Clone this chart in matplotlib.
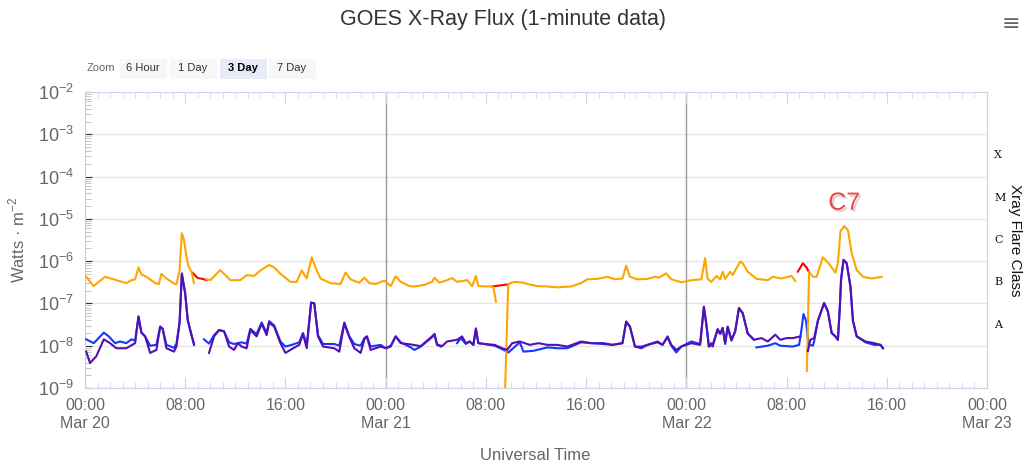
import numpy as np
import matplotlib
matplotlib.use('Agg')
import matplotlib.pyplot as plt
import matplotlib.patheffects as pe

nan = np.nan

# long channel (0.1-0.8 nm), primary satellite: hours since Mar 20 00:00, log10(W/m^2)
long_hours = [0.1, 0.67, 1.6, 2.5, 3.3, 3.7, 4.0, 4.27, 4.5, 4.9, 5.6, 5.9, 6.1, 6.5, 7.1, 7.3,
              7.55, 7.73, 7.9, 8.1, 8.27, 8.5, 8.7, 9.2,
              9.7, 10.0, 10.8, 11.6, 12.4, 12.9, 13.5, 14.0, 14.7, 15.1, 15.6, 16.4, 16.9, 17.3,
              17.7, 18.1, 18.4, 18.8, 19.6, 20.4, 20.8, 21.2, 21.9, 22.3, 22.7, 23.2, 23.9, 24.4,
              24.8, 25.2, 25.9, 26.3, 27.1, 27.7, 27.9, 28.3, 28.9, 29.3, 29.7, 30.5, 30.9, 31.2,
              31.4, 32.4, 32.6, 32.8, 33.2,
              33.5, 33.78, 34.3, 35.0, 35.3, 36.1, 36.9, 37.7, 38.8, 39.6, 40.1, 40.9, 41.7, 42.3,
              42.9, 43.2, 43.5, 44.1, 44.9, 45.5, 45.8, 46.4, 46.8, 47.6, 48.4, 49.2, 49.5, 49.7,
              50.0, 50.4, 50.7, 50.9, 51.1, 51.5, 51.7, 52.3, 52.5, 52.9, 53.6, 54.5, 54.9, 55.6,
              56.4, 56.7, 57.2,
              57.62, 57.8, 58.1, 58.4, 58.9, 59.3, 59.9, 60.1, 60.3, 60.6, 60.9, 61.2, 61.6, 62.1,
              62.8, 63.6]
long_flux = [-6.37, -6.59, -6.37, -6.45, -6.52, -6.45, -6.43, -6.15, -6.31, -6.37, -6.52, -6.54,
             -6.30, -6.41, -6.53, -6.55, -6.21, -5.34, -5.50, -5.90, -6.13, -6.25, -6.52, nan,
             -6.43, -6.45, -6.21, -6.45, -6.45, -6.33, -6.35, -6.22, -6.09, -6.15, -6.30, -6.49,
             -6.49, -6.22, -6.41, -5.91, -6.15, -6.41, -6.52, -6.54, -6.27, -6.43, -6.51, -6.39,
             -6.52, -6.54, -6.46, -6.59, -6.36, -6.49, -6.59, -6.60, -6.56, -6.49, -6.39, -6.51,
             -6.45, -6.40, -6.49, -6.45, -6.59, -6.35, -6.59, -6.60, -6.62, -6.96, nan,
             -9.4, -6.54, -6.49, -6.51, -6.54, -6.59, -6.60, -6.62, -6.60, -6.52, -6.43, -6.42,
             -6.37, -6.43, -6.41, -6.11, -6.37, -6.43, -6.42, -6.37, -6.39, -6.29, -6.43, -6.50,
             -6.45, -6.43, -5.93, -6.42, -6.49, -6.35, -6.43, -6.25, -6.42, -6.25, -6.33, -6.01,
             -6.05, -6.25, -6.42, -6.45, -6.37, -6.41, -6.35, -6.47, nan,
             -8.6, -6.25, -6.37, -6.37, -5.91, -6.03, -6.27, -6.05, -5.30, -5.17, -5.27, -5.81,
             -6.21, -6.37, -6.41, -6.37]

# long channel, secondary satellite (shown where the primary has gaps)
long2_hours = [8.6, 9.0, 9.4, 9.7, 10.0, 32.5, 33.0, 33.5, 33.8, 56.4, 56.9, 57.3, 57.6, 57.8]
long2_flux = [-6.28, -6.40, -6.42, -6.45, nan, -6.60, -6.58, -6.56, -6.55, nan,
              -6.25, -6.05, -6.15, -6.27]

# short channel (0.05-0.4 nm), primary satellite
short_hours = [0.1, 0.7, 1.5, 1.9, 2.4, 2.8, 3.3, 3.7, 4.0, 4.27, 4.5, 4.8, 5.2, 5.7, 6.0, 6.2,
               6.5, 7.1, 7.3, 7.55, 7.73, 8.0, 8.2, 8.5, 8.7, 9.1,
               9.5, 9.9, 10.3, 10.7, 11.1, 11.5, 11.9, 12.5, 12.9, 13.2, 13.5, 13.7, 14.1, 14.5,
               14.7, 15.1, 15.6, 16.0, 16.5, 17.1, 17.4, 17.7, 18.05, 18.3, 18.6, 19.0, 19.9, 20.3,
               20.7, 21.1, 21.5, 22.0, 22.3, 22.5, 22.8, 23.6, 24.0, 24.4, 24.8, 25.2, 26.0, 26.3,
               26.8, 27.7, 27.9, 28.1, 28.4, 29.0,
               29.7, 30.0, 30.4, 30.7, 31.0, 31.2, 31.4, 31.9, 32.7, 33.3, 33.8, 34.1, 34.7, 35.0,
               35.8, 36.9, 37.7, 38.5, 39.6, 40.4, 41.4, 42.1, 42.9, 43.2, 43.5, 43.9, 44.4, 44.9,
               45.7, 46.1, 46.5, 46.8, 47.2, 47.6, 48.4, 49.1, 49.4, 49.6, 49.8, 50.1, 50.5, 50.7,
               50.9, 51.1, 51.3, 51.6, 51.9, 52.2, 52.5, 52.9, 53.4, 53.5,
               53.6, 54.5, 55.1, 55.5, 56.5, 57.0, 57.2, 57.35, 57.55, 57.75, 58.1, 58.2, 58.5,
               59.0, 59.3, 59.6, 59.9, 60.1, 60.25, 60.35, 60.55, 60.8, 61.1, 61.3, 61.6, 62.3,
               63.0, 63.5, 63.7]
short_flux = [-7.85, -7.94, -7.69, -7.78, -7.94, -7.90, -7.94, -7.85, -7.88, -7.31, -7.69, -7.78,
              -8.00, -7.98, -7.55, -7.60, -7.98, -8.05, -7.95, -7.45, -6.30, -6.78, -7.40, -7.75,
              -7.95, nan,
              -7.85, -7.95, -7.75, -7.63, -7.66, -7.92, -7.96, -7.92, -7.95, -7.60, -7.68, -7.72,
              -7.45, -7.70, -7.42, -7.52, -7.90, -8.02, -7.98, -7.92, -7.70, -7.98, -6.98, -7.00,
              -7.75, -7.96, -7.96, -8.00, -7.45, -7.78, -7.96, -8.00, -7.82, -7.78, -8.02, -7.98,
              -8.06, -8.00, -7.78, -7.92, -8.04, -8.10, -8.02, -7.80, -7.74, -7.98, -8.02, nan,
              -7.94, -7.82, -7.96, -7.90, -7.98, -7.62, -7.94, -7.96, -8.00, -8.08, -8.16, -8.08,
              -7.92, -8.14, -8.12, -8.04, -8.06, -8.06, -7.92, -7.94, -7.96, -7.98, -7.94, -7.43,
              -7.55, -8.02, -8.02, -7.98, -7.92, -7.98, -7.80, -8.00, -8.16, -8.02, -7.90, -7.96,
              -7.08, -7.50, -8.02, -7.98, -7.61, -7.72, -7.58, -7.96, -7.55, -7.88, -7.66, -7.11,
              -7.23, -7.71, -7.86, nan,
              -8.04, -8.00, -7.94, -8.00, -8.02, -7.98, -7.60, -7.25, -7.40, -7.97, -8.00, -7.90,
              -7.41, -6.99, -7.19, -7.70, -7.78, -7.86, -7.10, -6.44, -5.97, -6.05, -6.60, -7.41,
              -7.78, -7.92, -7.98, -7.98, -8.06]

# short channel, secondary satellite
short2_hours = [0.1, 0.4, 0.9, 1.5, 2.0, 2.5, 3.3, 4.0, 4.27, 4.5, 4.8, 5.2, 5.7, 6.0, 6.2, 6.5,
                7.1, 7.3, 7.55, 7.73, 8.0, 8.2, 8.5, 8.7, 9.3,
                9.9, 10.3, 10.7, 11.1, 11.5, 11.9, 12.2, 12.5, 12.9, 13.2, 13.5, 13.7, 14.1, 14.5,
                14.7, 15.1, 15.6, 16.0, 16.5, 17.1, 17.4, 17.7, 18.05, 18.3, 18.6, 19.0, 19.9,
                20.3, 20.7, 21.1, 21.5, 22.0, 22.3, 22.5, 22.8, 23.6, 24.0, 24.4, 24.8, 25.2, 26.0,
                26.8, 27.7, 27.9, 28.1, 28.5, 28.9, 29.7, 30.1, 30.4, 30.7, 31.0, 31.2, 31.4, 31.9,
                32.7, 33.3, 33.7, 34.1, 34.7, 35.5, 36.2, 36.9, 37.7, 38.5, 39.6, 40.4, 41.4, 42.1,
                42.9, 43.2, 43.5, 43.9, 44.4, 44.9, 45.7, 46.1, 46.5, 46.8, 47.2, 47.6, 48.4, 49.1,
                49.4, 49.6, 49.8, 50.0, 50.1, 50.5, 50.7, 50.9, 51.1, 51.3, 51.6, 51.9, 52.2, 52.5,
                52.9, 53.4, 54.0, 54.5, 55.1, 55.5, 56.0, 56.5, 57.1, 57.4,
                57.7, 57.9, 58.2, 58.5, 59.0, 59.3, 59.6, 59.9, 60.1, 60.25, 60.35, 60.55, 60.8,
                61.1, 61.3, 61.6, 62.3, 63.0, 63.5, 63.7]
short2_flux = [-8.14, -8.41, -8.25, -7.85, -7.94, -8.06, -8.06, -7.94, -7.31, -7.69, -7.78, -8.17,
               -8.10, -7.55, -7.60, -8.06, -8.14, -8.02, -7.45, -6.29, -6.76, -7.39, -7.75, -7.98,
               nan,
               -8.17, -7.78, -7.63, -7.66, -8.02, -8.10, -7.94, -8.02, -8.06, -7.63, -7.72, -7.78,
               -7.48, -7.75, -7.45, -7.55, -7.94, -8.17, -8.08, -7.98, -7.72, -8.06, -6.98, -7.00,
               -7.78, -8.02, -8.06, -8.14, -7.47, -7.80, -8.06, -8.17, -7.85, -7.78, -8.10, -8.02,
               -8.06, -8.02, -7.78, -7.94, -7.97, -8.01, -7.78, -7.72, -7.97, -8.01, -7.90, -7.86,
               -7.78, -7.94, -7.90, -7.98, -7.59, -7.94, -7.96, -7.98, -8.06, -8.10, -7.94, -7.90,
               -7.98, -7.94, -7.98, -7.98, -8.02, -7.90, -7.94, -7.94, -7.98, -7.94, -7.43, -7.55,
               -8.02, -8.06, -7.98, -7.90, -7.98, -7.78, -7.98, -8.10, -8.02, -7.94, -7.98, -7.08,
               -7.50, -8.02, -7.94, -8.02, -7.61, -7.72, -7.58, -7.94, -7.55, -7.86, -7.66, -7.11,
               -7.23, -7.71, -7.86, -7.82, -7.90, -7.74, -7.86, -7.82, -7.82, -7.78, nan,
               -8.13, -7.86, -7.82, -7.41, -6.99, -7.19, -7.70, -7.78, -7.86, -7.10, -6.44, -5.97,
               -6.05, -6.60, -7.41, -7.78, -7.90, -7.94, -7.98, -8.06]

tick_hours = [0, 8, 16, 24, 32, 40, 48, 56, 64, 72]
tick_labels = ['00:00\nMar 20', '08:00', '16:00', '00:00\nMar 21', '08:00', '16:00',
               '00:00\nMar 22', '08:00', '16:00', '00:00\nMar 23']
decades = [-9, -8, -7, -6, -5, -4, -3, -2]
flare_classes = ['A', 'B', 'C', 'M', 'X']
class_levels = [-7.5, -6.5, -5.5, -4.5, -3.5]

plt.rcParams['font.family'] = ['Liberation Sans', 'DejaVu Sans']
plt.rcParams['mathtext.fontset'] = 'custom'
plt.rcParams['mathtext.rm'] = 'Liberation Sans'

fig = plt.figure(figsize=(10.33, 4.74), dpi=100)
ax = fig.add_axes([85 / 1033, 1 - 388 / 474, 902 / 1033, 296 / 474])

ax.set_yscale('log')
ax.set_ylim(1e-9, 1e-2)
ax.set_xlim(0, 72)

# grid
for d in decades:
    ax.axhline(10.0 ** d, color='#e6e6e6', lw=1, zorder=0)
ax.axvline(24, color='#999999', lw=1, zorder=1)
ax.axvline(48, color='#999999', lw=1, zorder=1)

ax.plot(long2_hours, 10 ** np.array(long2_flux), color='#ff0000', lw=1.5, zorder=3)
ax.plot(long_hours, 10 ** np.array(long_flux), color='#ffa500', lw=1.5, zorder=4)
ax.plot(short_hours, 10 ** np.array(short_flux), color='#1238ff', lw=1.5, zorder=3)
ax.plot(short2_hours, 10 ** np.array(short2_flux), color='#5510b0', lw=1.5, zorder=4)

ax.text(60.6, 10 ** -4.62, 'C7', color='#f04848', fontsize=18,
        ha='center', va='center', zorder=6,
        path_effects=[pe.withSimplePatchShadow(offset=(1.5, -1.5), shadow_rgbFace='#aaaaaa', alpha=0.5)])

# axes styling
for side in ['top', 'right', 'bottom']:
    ax.spines[side].set_color('#ccd6eb')
ax.spines['left'].set_color('#cccccc')
ax.set_xticks(tick_hours)
ax.set_xticklabels(tick_labels, fontsize=11.5, color='#666666', linespacing=1.25)
ax.set_xticks(np.arange(0, 73, 1), minor=True)
ax.tick_params(axis='x', which='both', direction='in', top=True, color='#ccd6eb')
ax.tick_params(axis='x', which='major', length=8, pad=7)
ax.tick_params(axis='x', which='minor', length=4)

ax.set_yticks([10.0 ** d for d in decades])
ax.set_yticklabels([r'$10^{%d}$' % d for d in decades], fontsize=13, color='#666666')
ax.tick_params(axis='y', which='major', length=5, color='#333333', direction='in', pad=8)
ax.tick_params(axis='y', which='minor', length=4, color='#bbbbbb', direction='in')

# right side flare class labels
for lab, lev in zip(flare_classes, class_levels):
    ax.text(1.008, (lev + 9) / 7, lab, transform=ax.transAxes, fontsize=8,
            family='DejaVu Serif', color='#111111', va='center', ha='left')
fig.text(1015 / 1033, 1 - 240 / 474, 'Xray Flare Class', rotation=-90, fontsize=11,
         ha='center', va='center', color='#111111')

fig.text(17 / 1033, 1 - 240 / 474, 'Watts · m$^{-2}$', rotation=90, fontsize=12,
         color='#666666', ha='center', va='center')
fig.text(535 / 1033, 1 - 455 / 474, 'Universal Time', fontsize=12, color='#666666',
         ha='center', va='center')
fig.text(503 / 1033, 1 - 20 / 474, 'GOES X-Ray Flux (1-minute data)', fontsize=15.5,
         color='#333333', ha='center', va='center')
fig.text(1011 / 1033, 1 - 24 / 474, '≡', fontsize=16, color='#666666', family='DejaVu Sans',
         ha='center', va='center')

# zoom buttons
fig.text(87 / 1033, 1 - 68 / 474, 'Zoom', fontsize=8, color='#666666', va='center')
buttons = ['6 Hour', '1 Day', '3 Day', '7 Day']
btn_x = [143, 193, 243, 292]
for lab, bx in zip(buttons, btn_x):
    sel = lab == '3 Day'
    fig.patches.append(plt.Rectangle(((bx - 23) / 1033, 1 - 79 / 474), 47 / 1033, 20 / 474,
                                     transform=fig.transFigure, facecolor='#e6ebf5' if sel else '#f7f7f7',
                                     edgecolor='none'))
    fig.text(bx / 1033, 1 - 68 / 474, lab, fontsize=8, color='#000000' if sel else '#333333',
             weight='bold' if sel else 'normal', ha='center', va='center')

fig.savefig('out.png', dpi=100)
